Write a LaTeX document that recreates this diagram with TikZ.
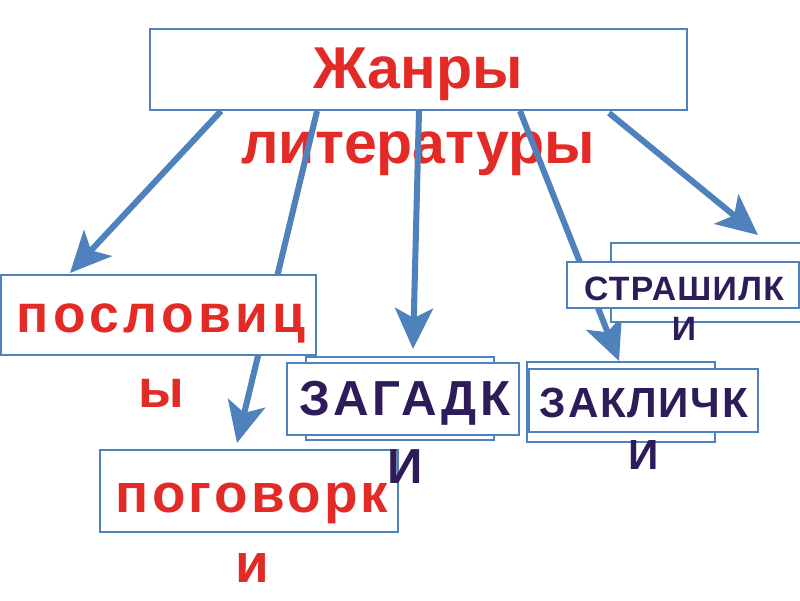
\documentclass[tikz,border=0pt]{standalone}
\usepackage{fontspec}
\setmainfont{Liberation Sans}
\usetikzlibrary{arrows.meta, fit}

\definecolor{ramka}{RGB}{79,129,189}
\definecolor{krasn}{RGB}{226,42,38}
\definecolor{fiol}{RGB}{46,28,90}

\newcommand{\shrift}[2]{\fontsize{#1}{#1}\selectfont\bfseries\addfontfeatures{LetterSpace=#2}}

\tikzset{
  box/.style={draw=ramka, fill=white, line width=1.2pt, inner sep=0pt},
  arr/.style={draw=ramka, line width=4.3pt,
    -{Stealth[length=29pt, width=27pt, inset=7pt]}},
  krtxt/.style={text=krasn, inner sep=0pt, anchor=base},
  fltxt/.style={text=fiol, inner sep=0pt, anchor=base},
}

\begin{document}
\begin{tikzpicture}[x=0.025cm, y=-0.025cm]
    \useasboundingbox (0,0) rectangle (800,600);
    % title
    \node[box, fit={(150,29) (687,110)}] (top) {};
    \node[krtxt, font=\shrift{42}{0}] (t1) at (418,88) {Жанры};
    \node[krtxt, font=\shrift{42}{0}] (t2) at (418,163) {литературы};

    % arrows
    \coordinate (s1) at (221,111);
    \coordinate (s2) at (317,111);
    \coordinate (s3) at (419,111);
    \coordinate (s4) at (520,111);
    \coordinate (s5) at (609,113);
    \coordinate (e1) at (70,273);
    \coordinate (e2) at (237,443);
    \coordinate (e3) at (413,349);
    \coordinate (e4) at (619,361);
    \coordinate (e5) at (758,235);
    \foreach \s/\e in {s1/e1, s2/e2, s3/e3, s4/e4, s5/e5} {
        \draw[arr] (\s) -- (\e);
    }

    % red boxes
    \node[box, fit={(1,275) (316,355)}] (posl) {};
    \node[krtxt, font=\shrift{38}{8}] (p1) at (161,332) {пословиц};
    \node[krtxt, font=\shrift{38}{8}] (p2) at (161,407) {ы};

    \node[box, fit={(100,450) (398,532)}] (pogov) {};
    \node[krtxt, font=\shrift{39}{6}] (g1) at (252,512) {поговорк};
    \node[krtxt, font=\shrift{39}{6}] (g2) at (252,582) {и};

    % violet boxes (double frame)
    \node[box, fit={(306,357) (494,440)}] (zagB) {};
    \node[box, fit={(287,363) (519,435)}] (zag) {};
    \node[fltxt, font=\shrift{35}{7}] (z1) at (405,415) {ЗАГАДК};
    \node[fltxt, font=\shrift{35}{7}] (z2) at (405,483) {И};

    \node[box, fit={(611,243) (802,322)}] (strB) {};
    \node[box, fit={(567,262) (799,308)}] (str) {};
    \node[fltxt, font=\shrift{24}{4}] (c1) at (684,300) {СТРАШИЛК};
    \node[fltxt, font=\shrift{24}{4}] (c2) at (684,340) {И};

    \node[box, fit={(527,362) (715,442)}] (zaklB) {};
    \node[box, fit={(529,369) (758,432)}] (zakl) {};
    \node[fltxt, font=\shrift{30}{4}] (k1) at (644,417) {ЗАКЛИЧК};
    \node[fltxt, font=\shrift{30}{4}] (k2) at (644,469) {И};
\end{tikzpicture}
\end{document}
